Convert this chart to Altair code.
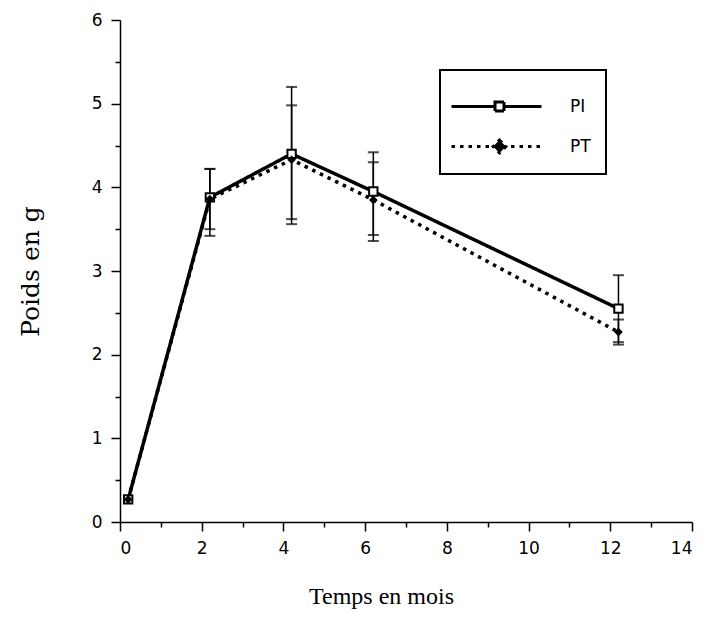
import altair as alt
import pandas as pd

# Data
months = [0.2, 2.2, 4.2, 6.2, 12.2]
pi_mean = [0.27, 3.88, 4.40, 3.95, 2.55]
pi_low = [None, 3.50, 3.56, 3.43, 2.15]
pi_high = [None, 4.22, 5.20, 4.42, 2.95]
pt_mean = [0.27, 3.86, 4.33, 3.85, 2.27]
pt_low = [None, 3.42, 3.62, 3.36, 2.12]
pt_high = [None, 4.22, 4.98, 4.30, 2.42]
series_names = ["PI", "PT"]
x_ticks = [i * 0.5 for i in range(29)]
y_ticks = [i * 0.5 for i in range(13)]

rows = []
for name, m, lo, hi in [("PI", pi_mean, pi_low, pi_high), ("PT", pt_mean, pt_low, pt_high)]:
    for t, v, l, h in zip(months, m, lo, hi):
        rows.append({"series": name, "t": t, "w": v, "lo": l, "hi": h})
df = pd.DataFrame(rows)
err = df.dropna()

FONT_SANS = "DejaVu Sans"
FONT_SERIF = "Liberation Serif"

x_enc = alt.X("t:Q", scale=alt.Scale(domain=[0, 14], nice=False, zero=False),
              axis=alt.Axis(values=x_ticks, title="Temps en mois",
                            labelExpr="datum.value % 2 === 0 ? format(datum.value, 'd') : ''",
                            tickSize={"condition": {"test": "datum.value % 2 === 0", "value": 9}, "value": 5},
                            labelPadding=9, titlePadding=28, titleX=261,
                            titleFont=FONT_SERIF, titleFontSize=24))
y_scale = alt.Scale(domain=[0, 6], nice=False)
y_axis = alt.Axis(values=y_ticks, title="Poids en g",
                  labelExpr="datum.value % 1 === 0 ? format(datum.value, 'd') : ''",
                  tickSize={"condition": {"test": "datum.value % 1 === 0", "value": 9}, "value": 5},
                  labelPadding=9, titlePadding=48,
                  titleFont="DejaVu Serif", titleFontSize=25)

# legend symbols: line sample with marker in the middle
legend_paths = [
    "M-1.25,0H0.925M0.925,-0.225H1.375V0.225H0.925ZM1.375,0H3.25",
    "M-1.25,0H3.25M1.15,-0.32L1.47,0L1.15,0.32L0.83,0Z",
]

legend = alt.Legend(
    orient="none", legendX=320, legendY=50, title=None,
    symbolSize=1600, labelOffset=72, rowPadding=8, padding=15,
    labelFont=FONT_SANS, labelFontSize=17, labelColor="black",
    strokeColor="black", symbolStrokeWidth=3,
    symbolOpacity=1,
)

dash_scale = alt.Scale(domain=series_names, range=[[1, 0], [3.5, 5]])

base = alt.Chart(df)

lines = base.mark_line(color="black", strokeWidth=3.5, strokeCap="butt").encode(
    x=x_enc,
    y=alt.Y("w:Q", scale=y_scale, axis=y_axis),
    strokeDash=alt.StrokeDash("series:N", scale=dash_scale, legend=legend),
    detail="series:N",
)

legend_layer = base.mark_point(filled=False, strokeWidth=3, opacity=0).encode(
    x="t:Q", y=alt.Y("w:Q", scale=y_scale),
    shape=alt.Shape("series:N", scale=alt.Scale(domain=series_names, range=legend_paths), legend=legend),
    fill=alt.Fill("series:N", scale=alt.Scale(domain=series_names, range=["white", "black"]), legend=legend),
    stroke=alt.Stroke("series:N", scale=alt.Scale(domain=series_names, range=["black", "black"]), legend=legend),
    strokeDash=alt.StrokeDash("series:N", scale=dash_scale, legend=legend),
)

err_base = alt.Chart(err)
err_rules = err_base.mark_rule(color="black", strokeWidth=1.5).encode(
    x="t:Q", y=alt.Y("lo:Q", scale=y_scale), y2="hi:Q")
cap_lo = err_base.mark_tick(color="black", orient="horizontal", size=11, thickness=2).encode(
    x="t:Q", y=alt.Y("lo:Q", scale=y_scale))
cap_hi = err_base.mark_tick(color="black", orient="horizontal", size=11, thickness=2).encode(
    x="t:Q", y=alt.Y("hi:Q", scale=y_scale))

pts_pi = alt.Chart(df[df.series == "PI"]).mark_point(
    shape="square", size=70, fill="white", stroke="black", strokeWidth=2, opacity=1, filled=False
).encode(x="t:Q", y=alt.Y("w:Q", scale=y_scale))
pts_pt = alt.Chart(df[df.series == "PT"]).mark_point(
    shape="diamond", size=75, color="black", filled=True, opacity=1
).encode(x="t:Q", y=alt.Y("w:Q", scale=y_scale))

chart = alt.layer(lines, legend_layer, err_rules, cap_lo, cap_hi, pts_pi, pts_pt).properties(
    width=572, height=502,
    autosize=alt.AutoSizeParams(type="none"),
    padding={"left": 112, "top": 12, "right": 9, "bottom": 93},
).configure_view(stroke=None).configure_axis(
    domainColor="black", domainWidth=1.5, tickColor="black", tickWidth=1.5,
    labelFont=FONT_SANS, labelFontSize=17, labelColor="black",
    titleFontWeight="normal", titleColor="black",
    grid=False,
).configure_legend(strokeWidth=2)

chart.save("out.html", embed_options={"renderer": "svg", "actions": False})
